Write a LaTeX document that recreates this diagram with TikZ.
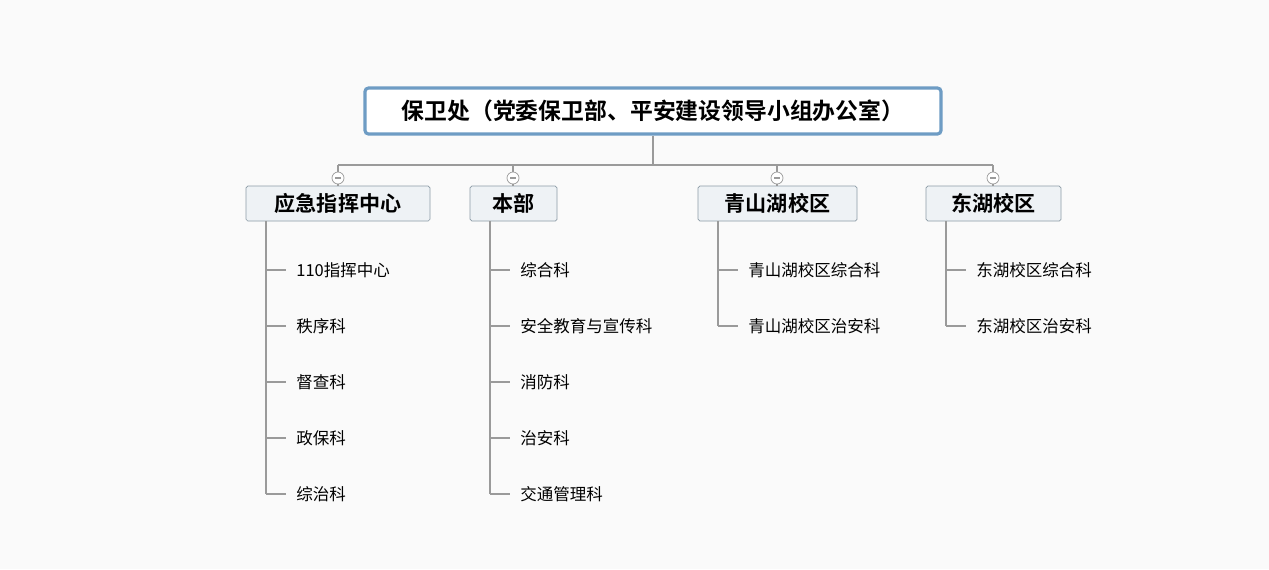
\documentclass[tikz,border=0pt]{standalone}
\usepackage{fontspec}
\setmainfont{Noto Sans CJK SC}
\newfontfamily\cjkbold{Noto Sans CJK SC Bold}
\definecolor{bg}{HTML}{FAFAFA}
\definecolor{ln}{HTML}{9A9A9A}
\definecolor{rootb}{HTML}{6E9CC4}
\definecolor{catf}{HTML}{EEF2F5}
\definecolor{catb}{HTML}{8C9BA6}
\tikzset{
    rootbox/.style={draw=rootb,line width=1.8pt,fill=white,rounded corners=2pt,minimum width=576*0.02cm,minimum height=46*0.02cm,font=\cjkbold\fontsize{13}{13}\selectfont},
    catbox/.style={draw=catb,fill=catf,rounded corners=1pt,minimum height=35*0.02cm,font=\cjkbold\fontsize{12}{12}\selectfont},
    leaf/.style={anchor=west,font=\fontsize{9.4}{9.4}\selectfont,inner sep=0pt},
    conn/.style={ln,line width=0.6pt},
    fold/.style={circle,draw=ln,fill=white,minimum size=12*0.02cm,inner sep=0pt}
}
\begin{document}
\begin{tikzpicture}[x=0.02cm,y=-0.02cm]
\fill[bg] (0,0) rectangle (1269,569);
\useasboundingbox (0,0) rectangle (1269,569);
\node[rootbox] (root) at (653,111) {保卫处（党委保卫部、平安建设领导小组办公室）};
\coordinate (hub) at (653,165);
\draw[conn] (root.south) -- (hub);
\draw[conn] (338,165) -- (993,165);
% categories: x of centre, left edge, width, name, label
\foreach \cx/\lx/\w/\nm/\txt in {338/246/184/yj/应急指挥中心, 513/470/87/bb/本部, 777/698/159/qs/青山湖校区, 993/926/135/dh/东湖校区}{
    \node[fold] (f\nm) at (\cx,178) {};
    \draw[conn] (\cx,165) -- (f\nm.north);
    \draw[ln,line width=0.6pt] ([xshift=-3*0.02cm]f\nm.center) -- ([xshift=3*0.02cm]f\nm.center);
    \node[catbox,minimum width=\w*0.02cm] (c\nm) at (\lx+\w/2,203.5) {\txt};
    \draw[conn] (f\nm.south) -- (c\nm.north -| f\nm);
}
% leaves
\foreach \nm/\x/\last/\items in {yj/266/494/{110指挥中心,秩序科,督查科,政保科,综治科}, bb/490/494/{综合科,安全教育与宣传科,消防科,治安科,交通管理科}, qs/718/326/{青山湖校区综合科,青山湖校区治安科}, dh/946/326/{东湖校区综合科,东湖校区治安科}}{
    \draw[conn] (c\nm.south -| \x,0) -- (\x,\last);
    \foreach \t [count=\i] in \items {
        \node[leaf] (l\nm\i) at (\x+30,214+56*\i) {\t};
        \draw[conn] (\x,214+56*\i) -- (\x+20,214+56*\i);
    }
}
\end{tikzpicture}
\end{document}
